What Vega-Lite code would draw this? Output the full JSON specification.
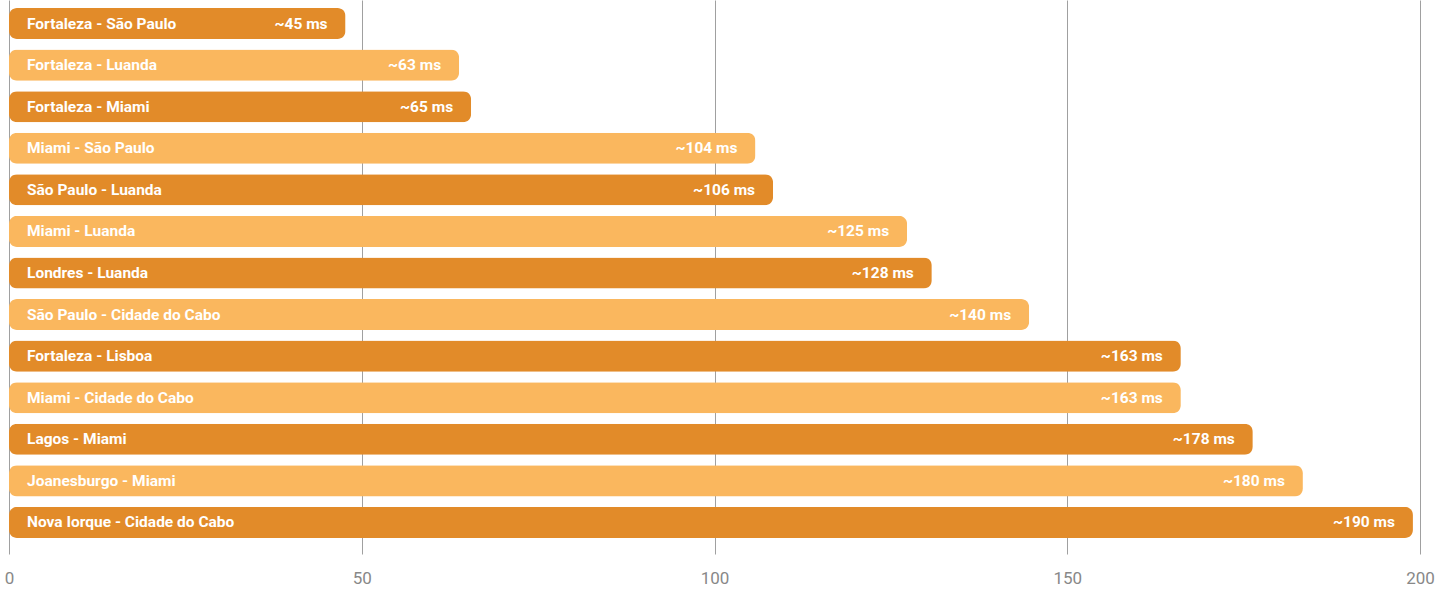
{
  "$schema": "https://vega.github.io/schema/vega-lite/v6.json",
  "width": 1411,
  "height": 554,
  "autosize": {"type": "none"},
  "padding": {"left": 9, "top": 0, "right": 31, "bottom": 40},
  "background": "white",
  "config": {"view": {"stroke": null}, "font": "Roboto"},
  "data": {
    "values": [
      {"rota": "Fortaleza - São Paulo", "latencia": 47.7, "rotulo": "~45 ms", "tom": "A"},
      {"rota": "Fortaleza - Luanda", "latencia": 63.8, "rotulo": "~63 ms", "tom": "B"},
      {"rota": "Fortaleza - Miami", "latencia": 65.5, "rotulo": "~65 ms", "tom": "A"},
      {"rota": "Miami - São Paulo", "latencia": 105.8, "rotulo": "~104 ms", "tom": "B"},
      {"rota": "São Paulo - Luanda", "latencia": 108.3, "rotulo": "~106 ms", "tom": "A"},
      {"rota": "Miami - Luanda", "latencia": 127.3, "rotulo": "~125 ms", "tom": "B"},
      {"rota": "Londres - Luanda", "latencia": 130.8, "rotulo": "~128 ms", "tom": "A"},
      {"rota": "São Paulo - Cidade do Cabo", "latencia": 144.6, "rotulo": "~140 ms", "tom": "B"},
      {"rota": "Fortaleza - Lisboa", "latencia": 166.1, "rotulo": "~163 ms", "tom": "A"},
      {"rota": "Miami - Cidade do Cabo", "latencia": 166.1, "rotulo": "~163 ms", "tom": "B"},
      {"rota": "\u200aLagos - Miami", "latencia": 176.3, "rotulo": "~178 ms", "tom": "A"},
      {"rota": "Joanesburgo - Miami", "latencia": 183.4, "rotulo": "~180 ms", "tom": "B"},
      {"rota": "Nova Iorque - Cidade do Cabo", "latencia": 199.0, "rotulo": "~190 ms", "tom": "A"}
    ]
  },
  "encoding": {
    "y": {
      "field": "rota",
      "type": "nominal",
      "sort": null,
      "axis": null,
      "scale": {"paddingInner": 0.253, "paddingOuter": 0.289, "align": 0.333}
    }
  },
  "layer": [
    {
      "mark": {"type": "bar", "cornerRadius": 8},
      "encoding": {
        "x": {
          "field": "latencia",
          "type": "quantitative",
          "scale": {"domain": [0, 200], "nice": false},
          "axis": {
            "values": [0, 50, 100, 150, 200],
            "title": null,
            "domain": false,
            "ticks": false,
            "grid": true,
            "gridColor": "#a0a0a0",
            "gridWidth": 1,
            "gridOpacity": 1,
            "labelColor": "#888888",
            "labelFont": "Roboto",
            "labelFontSize": 17,
            "labelPadding": 16,
            "labelFlush": false
          }
        },
        "color": {
          "field": "tom",
          "type": "nominal",
          "scale": {"domain": ["A", "B"], "range": ["#E28B29", "#FAB75E"]},
          "legend": null
        }
      }
    },
    {
      "mark": {"type": "text", "align": "left", "baseline": "middle", "dx": 18, "color": "white", "font": "Roboto", "fontWeight": "bold", "fontSize": 15.5},
      "encoding": {
        "x": {"datum": 0, "type": "quantitative"},
        "text": {"field": "rota"}
      }
    },
    {
      "mark": {"type": "text", "align": "right", "baseline": "middle", "dx": -18, "color": "white", "font": "Roboto", "fontWeight": "bold", "fontSize": 15.5},
      "encoding": {
        "x": {"field": "latencia", "type": "quantitative"},
        "text": {"field": "rotulo"}
      }
    }
  ]
}
